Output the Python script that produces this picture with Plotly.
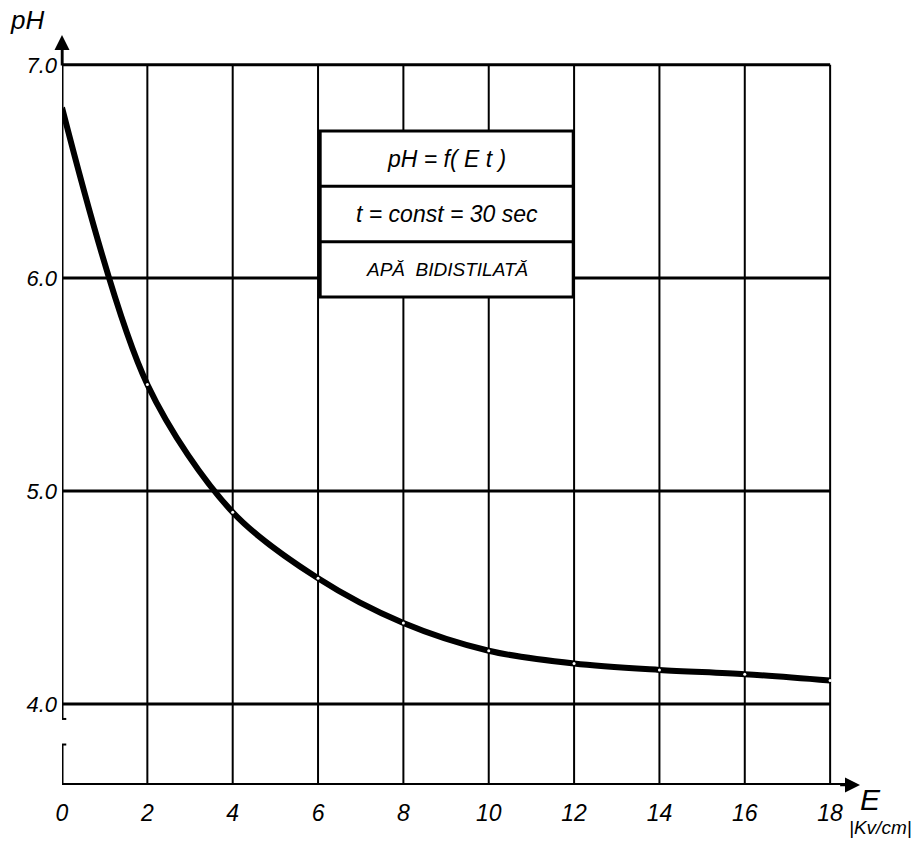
import plotly.graph_objects as go

# data
E_kv_cm = [0, 2, 4, 6, 8, 10, 12, 14, 16, 18]
pH_values = [6.80, 5.50, 4.90, 4.59, 4.38, 4.25, 4.19, 4.16, 4.14, 4.11]

x_ticks = [0, 2, 4, 6, 8, 10, 12, 14, 16, 18]
x_tick_labels = ["0", "2", "4", "6", "8", "10", "12", "14", "16", "18"]
y_ticks = [4.0, 5.0, 6.0, 7.0]
y_tick_labels = ["4.0", "5.0", "6.0", "7.0"]

box_lines = ["pH = f( E t )", "t = const = 30 sec", "APĂ  BIDISTILATĂ"]

X0, X1 = 0, 18.7
Y0, Y1 = 3.62, 7.14
FONT = "Liberation Sans"

fig = go.Figure()

fig.add_trace(go.Scatter(
    x=E_kv_cm, y=pH_values, mode="lines+markers",
    line=dict(color="black", width=6, shape="spline", smoothing=0.9),
    marker=dict(color="white", size=3, line=dict(width=0)),
    showlegend=False, hoverinfo="x+y",
))

shapes = []
# vertical grid lines (stop at 7.0)
for xv in x_ticks[1:]:
    shapes.append(dict(type="line", xref="x", yref="y", x0=xv, x1=xv, y0=Y0, y1=max(y_ticks),
                       line=dict(color="black", width=2), layer="below"))
# horizontal grid lines (stop at 18)
for yv in y_ticks:
    shapes.append(dict(type="line", xref="x", yref="y", x0=0, x1=max(x_ticks), y0=yv, y1=yv,
                       line=dict(color="black", width=3), layer="below"))
# x axis
shapes.append(dict(type="line", xref="x", yref="y", x0=0, x1=X1 - 0.2, y0=Y0, y1=Y0,
                   line=dict(color="black", width=4)))
# y axis with break
shapes.append(dict(type="line", xref="x", yref="y", x0=0, x1=0, y0=3.93, y1=Y1 - 0.06,
                   line=dict(color="black", width=3)))
shapes.append(dict(type="line", xref="x", yref="y", x0=0, x1=0, y0=Y0, y1=3.81,
                   line=dict(color="black", width=3)))
shapes.append(dict(type="line", xref="x", yref="y", x0=-0.1, x1=0.1, y0=3.93, y1=3.93,
                   line=dict(color="black", width=2)))
shapes.append(dict(type="line", xref="x", yref="y", x0=-0.1, x1=0.1, y0=3.81, y1=3.81,
                   line=dict(color="black", width=2)))

# text box
bx0, bx1 = 6.05, 11.98
rows = [6.69, 6.43, 6.17, 5.91]
shapes.append(dict(type="rect", xref="x", yref="y", x0=bx0, x1=bx1, y0=rows[-1], y1=rows[0],
                   fillcolor="white", line=dict(color="black", width=3), layer="above"))
for r in rows[1:-1]:
    shapes.append(dict(type="line", xref="x", yref="y", x0=bx0, x1=bx1, y0=r, y1=r,
                       line=dict(color="black", width=3), layer="above"))

annotations = []
for i, txt in enumerate(box_lines):
    annotations.append(dict(x=(bx0 + bx1) / 2, y=(rows[i] + rows[i + 1]) / 2, xref="x", yref="y",
                            text=txt, showarrow=False,
                            font=dict(family=FONT, size=23 if i < 2 else 19, color="black", style="italic")))

# axis arrows
annotations.append(dict(x=0, y=Y1, ax=0, ay=Y1 - 0.15, xref="x", yref="y", axref="x", ayref="y",
                        text="", showarrow=True, arrowhead=2, arrowsize=1.2, arrowwidth=2.5,
                        arrowcolor="black"))
annotations.append(dict(x=X1, y=Y0, ax=X1 - 0.5, ay=Y0, xref="x", yref="y", axref="x", ayref="y",
                        text="", showarrow=True, arrowhead=2, arrowsize=1.2, arrowwidth=2.5,
                        arrowcolor="black"))
# axis titles (pixel positions, converted below)
annotations.append(dict(x=27, y=20, text="pH", showarrow=False,
                        font=dict(family=FONT, size=26, color="black", style="italic")))
annotations.append(dict(x=870, y=799, text="E", showarrow=False,
                        font=dict(family=FONT, size=30, color="black", style="italic")))
annotations.append(dict(x=880, y=827, text="|Kv/cm|", showarrow=False,
                        font=dict(family=FONT, size=19, color="black", style="italic")))

W, H = 917, 841
ml, mr, mt, mb = 62, 57, 35, 56
pw, ph = W - ml - mr, H - mt - mb
for a in annotations:
    if a.get("xref") is None:
        a["xref"] = "paper"; a["yref"] = "paper"
        a["x"] = (a["x"] - ml) / pw
        a["y"] = 1 - (a["y"] - mt) / ph
        a["xanchor"] = "center"; a["yanchor"] = "middle"

fig.update_layout(
    width=W, height=H,
    margin=dict(l=ml, r=mr, t=mt, b=mb),
    paper_bgcolor="white", plot_bgcolor="white",
    shapes=shapes, annotations=annotations,
    xaxis=dict(range=[X0, X1], showgrid=False, zeroline=False, showline=False,
               tickvals=x_ticks, ticktext=x_tick_labels, ticks="", ticklabelstandoff=12,
               tickfont=dict(family=FONT, size=23, color="black", style="italic")),
    yaxis=dict(range=[Y0, Y1], showgrid=False, zeroline=False, showline=False,
               tickvals=y_ticks, ticktext=y_tick_labels, ticks="", ticklabelstandoff=4,
               tickfont=dict(family=FONT, size=22, color="black", style="italic")),
)

fig.write_html("out.html")
